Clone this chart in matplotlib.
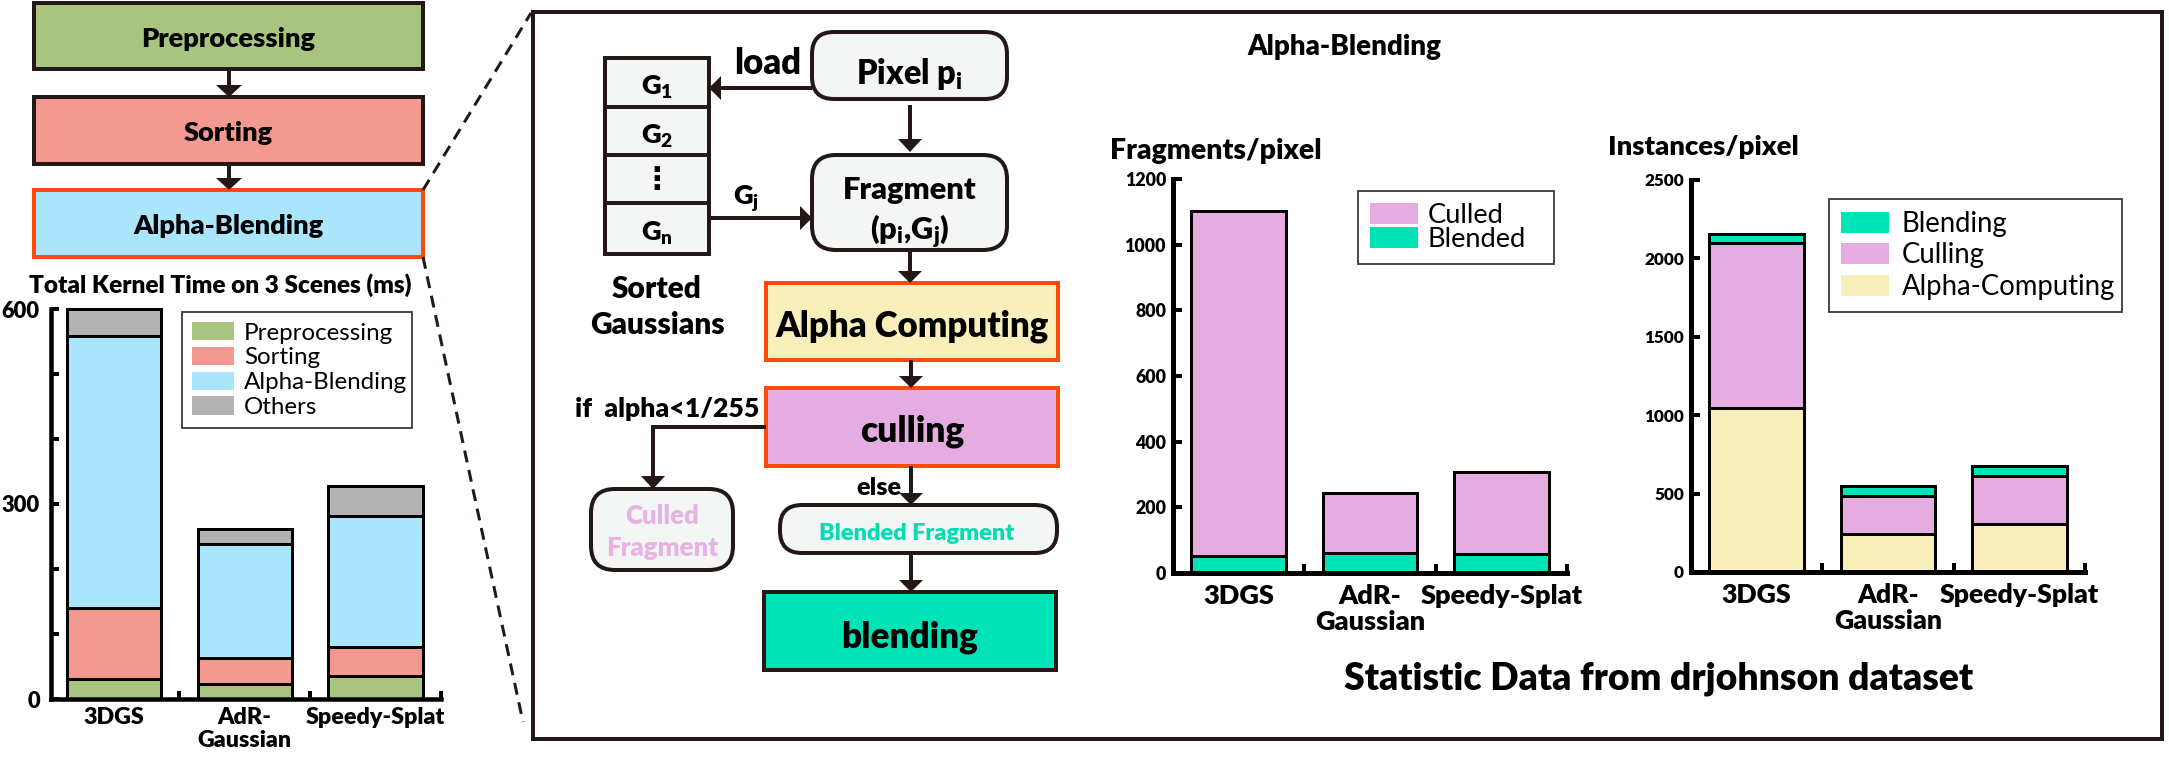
import numpy as np
import matplotlib
matplotlib.use('Agg')
import matplotlib.pyplot as plt
from matplotlib.patches import Rectangle, FancyBboxPatch, Patch, Polygon

plt.rcParams['font.family'] = ['Lato', 'DejaVu Sans']
plt.rcParams['mathtext.fontset'] = 'custom'
plt.rcParams['mathtext.rm'] = 'Lato'
plt.rcParams['mathtext.bf'] = 'Lato:heavy'
plt.rcParams['mathtext.it'] = 'Lato:italic'
plt.rcParams['mathtext.sf'] = 'Lato'

# ---------------- data ----------------
methods = ['3DGS', 'AdR-\nGaussian', 'Speedy-Splat']

kernel_labels = ['Preprocessing', 'Sorting', 'Alpha-Blending', 'Others']
kernel_preprocessing = [31, 23, 36]
kernel_sorting = [109, 40, 44]
kernel_alpha_blending = [419, 175, 202]
kernel_others = [41, 24, 45]
kernel_yticks = [0, 300, 600]
kernel_yminor = [100, 200, 400, 500]

fragment_labels = ['Culled', 'Blended']
fragment_blended = [53, 60, 59]
fragment_culled = [1050, 183, 249]
fragment_yticks = [0, 200, 400, 600, 800, 1000, 1200]

instance_labels = ['Blending', 'Culling', 'Alpha-Computing']
instance_alpha_computing = [1047, 243, 307]
instance_culling = [1052, 244, 308]
instance_blending = [55, 61, 59]
instance_yticks = [0, 500, 1000, 1500, 2000, 2500]

# ---------------- style ----------------
GREEN = '#A9C47F'
SALMON = '#F4998F'
SKY = '#A9E5FC'
GRAY = '#B3B3B3'
PINK = '#E4ACE1'
TEAL = '#00E3B6'
CREAM = '#F8EFBB'
ORANGE = '#FF4A0A'
DARK = '#231815'
LIGHT = '#F4F6F5'
TXT = '#000000'
BOLD = 'heavy'

W, H = 2169, 761
DPI = 100
PX = 72.0 / DPI  # points per pixel

fig = plt.figure(figsize=(W / DPI, H / DPI), dpi=DPI)
fig.patch.set_facecolor('white')
R = fig.canvas.get_renderer()


def fit(s, target, weight=BOLD, family=None):
    kw = {'fontweight': weight}
    if family:
        kw['family'] = family
    t = fig.text(0, 0, s, fontsize=20, **kw)
    w = t.get_window_extent(renderer=R).width
    t.remove()
    return 20.0 * target / w


bg = fig.add_axes([0, 0, 1, 1])
bg.set_xlim(0, W)
bg.set_ylim(H, 0)
bg.axis('off')


def box(x0, y0, x1, y1, fc, ec=DARK, lw=4, r=0, z=2):
    if r:
        p = FancyBboxPatch((x0, y0), x1 - x0, y1 - y0,
                           boxstyle=f'round,pad=0,rounding_size={r}',
                           fc=fc, ec=ec, lw=lw * PX, zorder=z)
    else:
        p = Rectangle((x0, y0), x1 - x0, y1 - y0, fc=fc, ec=ec, lw=lw * PX,
                      zorder=z, joinstyle='miter')
    bg.add_patch(p)


def label(x, y, s, target=None, size=None, weight=BOLD, color=TXT, ha='center',
          family=None):
    fs = size if size is not None else fit(s, target, weight, family)
    kw = {}
    if family:
        kw['family'] = family
    bg.text(x, y, s, fontsize=fs, fontweight=weight, color=color, ha=ha,
            va='center_baseline', zorder=5, **kw)
    return fs


def arrow(pts, lw=4, hw=24, hl=14):
    pts = np.array(pts, float)
    tip = pts[-1]
    d = pts[-1] - pts[-2]
    u = d / np.hypot(*d)
    n = np.array([-u[1], u[0]])
    base = tip - u * hl
    line = np.vstack([pts[:-1], base])
    bg.plot(line[:, 0], line[:, 1], color=DARK, lw=lw * PX,
            solid_capstyle='butt', solid_joinstyle='miter', zorder=4)
    bg.add_patch(Polygon([tip, base + n * hw / 2, base - n * hw / 2],
                         closed=True, fc=DARK, ec='none', zorder=4))


# ---------------- left pipeline ----------------
bx0, bx1 = 34, 423
box(bx0, 3, bx1, 69, GREEN)
box(bx0, 97, bx1, 164, SALMON)
box(bx0, 190, bx1, 257, SKY, ec=ORANGE)
fs_top = fit('Preprocessing', 174)
label((bx0 + bx1) / 2, 37, 'Preprocessing', size=fs_top)
label((bx0 + bx1) / 2, 131, 'Sorting', size=fs_top)
label((bx0 + bx1) / 2, 224, 'Alpha-Blending', size=fs_top)
arrow([(229, 69), (229, 97)], lw=4, hw=26, hl=12)
arrow([(229, 164), (229, 190)], lw=4, hw=26, hl=12)

label(220, 283, 'Total Kernel Time on 3 Scenes (ms)', target=383)

# zoom dashed connectors
bg.plot([bx1, 531], [190, 13], color=DARK, lw=3 * PX, ls=(0, (4, 2.6)), zorder=3)
bg.plot([bx1, 523], [257, 722], color=DARK, lw=3 * PX, ls=(0, (4, 2.6)), zorder=3)

# big frame
box(533, 12, 2162, 739, 'none', lw=4, z=1)

# ---------------- flowchart ----------------
rows = [58, 107, 155, 203, 254]
for i in range(4):
    box(605, rows[i], 709, rows[i + 1], LIGHT)
fs_g = fit(r'G$_\mathbf{1}$', 32)
for i, s in enumerate([r'G$_\mathbf{1}$', r'G$_\mathbf{2}$', None, r'G$_\mathbf{n}$']):
    yc = (rows[i] + rows[i + 1]) / 2
    if s is None:
        bg.text(657, yc + 1, '\u22ee', fontsize=22, fontweight='bold',
                family=['DejaVu Sans'], ha='center', va='center', zorder=5)
    else:
        label(657, yc + 2, s, size=fs_g)
fs_sg = fit('Gaussians', 135)
label(657, 287, 'Sorted', size=fs_sg)
label(657, 322, 'Gaussians', size=fs_sg)

label(768, 60, 'load', target=67)

box(812, 32, 1007, 99, LIGHT, r=22)
label(909, 70, r'Pixel p$_\mathbf{i}$', target=107)
arrow([(812, 88), (709, 88)], lw=4, hw=24, hl=12)
arrow([(910, 105), (910, 152)], lw=4, hw=24, hl=13)

box(812, 155, 1007, 250, LIGHT, r=24)
fs_fr = fit('Fragment', 134)
label(910, 188, 'Fragment', size=fs_fr)
label(910, 226, r'(p$_\mathbf{i}$,G$_\mathbf{j}$)', size=fs_fr)
label(746, 194, r'G$_\mathbf{j}$', size=fs_g)
arrow([(709, 218), (812, 218)], lw=4, hw=24, hl=12)
arrow([(910, 250), (910, 283)], lw=4, hw=24, hl=12)

box(766, 283, 1058, 360, CREAM, ec=ORANGE)
label(912, 323, 'Alpha Computing', target=273)
arrow([(911, 360), (911, 388)], lw=4, hw=24, hl=12)

box(766, 388, 1058, 466, PINK, ec=ORANGE)
label(912, 428, 'culling', target=105)
label(667, 407, 'if  alpha<1/255', target=184)
arrow([(766, 427), (653, 427), (653, 489)], lw=4, hw=24, hl=13)

box(591, 489, 733, 570, LIGHT, r=24)
fs_cf = fit('Fragment', 112)
label(662, 514, 'Culled', size=fs_cf, color='#E6B3E4')
label(662, 546, 'Fragment', size=fs_cf, color='#E6B3E4')

label(879, 486, 'else', target=45)
arrow([(911, 466), (911, 505)], lw=4, hw=24, hl=12)

box(780, 505, 1057, 553, LIGHT, r=22)
label(917, 531, 'Blended Fragment', target=195, color='#00DDB0')
arrow([(911, 553), (911, 592)], lw=4, hw=24, hl=12)

box(764, 592, 1056, 670, TEAL)
label(910, 634, 'blending', target=137)

# ---------------- right-side titles ----------------
label(1344, 45, 'Alpha-Blending', target=194)
label(1110, 149, 'Fragments/pixel', target=212, ha='left')
label(1608, 145, 'Instances/pixel', target=191, ha='left')
label(1659, 675, 'Statistic Data from drjohnson dataset', target=630)


# ---------------- charts ----------------
def make_ax(x0, y0, x1, y1):
    ax = fig.add_axes([x0 / W, 1 - y1 / H, (x1 - x0) / W, (y1 - y0) / H])
    ax.patch.set_visible(False)
    return ax


def style(ax, xlim, ylim, yticks, yminor, ylab_fs, xlab_fs, spine_px, tick_len,
          tick_w, ypad, xpad, lsp):
    ax.set_xlim(*xlim)
    ax.set_ylim(*ylim)
    for s in ['top', 'right']:
        ax.spines[s].set_visible(False)
    for s in ['left', 'bottom']:
        ax.spines[s].set_linewidth(spine_px * PX)
        ax.spines[s].set_color('black')
        ax.spines[s].set_capstyle('projecting')
    ax.set_xticks(range(len(methods)))
    ax.set_xticklabels(methods, fontsize=xlab_fs, fontweight=BOLD)
    for t in ax.get_xticklabels():
        t.set_linespacing(lsp)
    ax.set_xticks([0.5, 1.5, 2.5], minor=True)
    ax.tick_params(axis='x', which='major', length=0, pad=xpad)
    ax.tick_params(axis='x', which='minor', direction='in', length=tick_len * PX,
                   width=tick_w * PX)
    ax.set_yticks(yticks)
    ax.set_yticklabels([str(v) for v in yticks], fontsize=ylab_fs, fontweight=BOLD)
    if yminor:
        ax.set_yticks(yminor, minor=True)
    ax.tick_params(axis='y', which='both', direction='in', length=tick_len * PX,
                   width=tick_w * PX, pad=ypad)


def stacked(ax, series, colors, width=0.72, lw=3):
    x = np.arange(len(methods))
    bottom = np.zeros(len(methods))
    for vals, c in zip(series, colors):
        ax.bar(x, vals, width, bottom=bottom, color=c, edgecolor='black',
               linewidth=lw * PX, zorder=2, clip_on=False)
        bottom = bottom + np.array(vals)


def legend(ax, labels, colors, frame, patch_w, patch_h, pad, text_gap,
           text_target, text_s):
    fs = fit(text_s, text_target, weight='normal')
    fs_px = fs / PX
    handles = [Patch(facecolor=c, edgecolor='none') for c in colors]
    x0, y0, x1, y1 = frame
    target_h = y1 - y0
    ls = 0.3
    for _ in range(4):
        leg = ax.legend(handles, labels, loc='upper left', mode='expand',
                        bbox_to_anchor=(x0 / W, 1 - y1 / H, (x1 - x0) / W, (y1 - y0) / H),
                        bbox_transform=fig.transFigure, borderaxespad=0,
                        prop={'size': fs, 'weight': 'normal'},
                        handlelength=patch_w / fs_px, handleheight=patch_h / fs_px,
                        handletextpad=text_gap / fs_px, borderpad=pad / fs_px,
                        labelspacing=ls, fancybox=False, frameon=True,
                        edgecolor='#3d3536', framealpha=1)
        leg.get_frame().set_linewidth(1.8 * PX)
        fig.canvas.draw()
        h = leg.get_window_extent(renderer=fig.canvas.get_renderer()).height
        ls += (target_h - h) / ((len(labels) - 1) * fs_px)
    return leg


# left chart: total kernel time
axL = make_ax(51, 309, 441, 699)
stacked(axL, [kernel_preprocessing, kernel_sorting, kernel_alpha_blending, kernel_others],
        [GREEN, SALMON, SKY, GRAY])
style(axL, (-0.48, 2.5), (0, 600), kernel_yticks, kernel_yminor,
      ylab_fs=fit('600', 38), xlab_fs=fit('3DGS', 61), spine_px=4.5, tick_len=8,
      tick_w=4, ypad=8, xpad=6, lsp=1.12)
legend(axL, kernel_labels, [GREEN, SALMON, SKY, GRAY], (182, 312, 412, 428),
       patch_w=42, patch_h=19, pad=10, text_gap=10,
       text_target=163, text_s='Alpha-Blending')

# middle chart: fragments / pixel
axM = make_ax(1173, 179, 1567, 573)
stacked(axM, [fragment_blended, fragment_culled], [TEAL, PINK])
style(axM, (-0.5, 2.5), (0, 1200), fragment_yticks, None,
      ylab_fs=fit('1000', 41), xlab_fs=fit('3DGS', 71), spine_px=5, tick_len=9,
      tick_w=4, ypad=5, xpad=8, lsp=1.08)
legend(axM, fragment_labels, [PINK, TEAL], (1358, 191, 1554, 264),
       patch_w=48, patch_h=21, pad=12, text_gap=10,
       text_target=99, text_s='Blended')

# right chart: instances / pixel
axR = make_ax(1691, 180, 2085, 572)
stacked(axR, [instance_alpha_computing, instance_culling, instance_blending],
        [CREAM, PINK, TEAL])
style(axR, (-0.5, 2.5), (0, 2500), instance_yticks, None,
      ylab_fs=fit('2000', 39.5), xlab_fs=fit('3DGS', 70), spine_px=5, tick_len=9,
      tick_w=4, ypad=5, xpad=8, lsp=1.08)
legend(axR, instance_labels, [TEAL, PINK, CREAM], (1829, 199, 2122, 312),
       patch_w=48, patch_h=22, pad=12, text_gap=13,
       text_target=214, text_s='Alpha-Computing')

fig.savefig('out.png', dpi=DPI, facecolor='white')
